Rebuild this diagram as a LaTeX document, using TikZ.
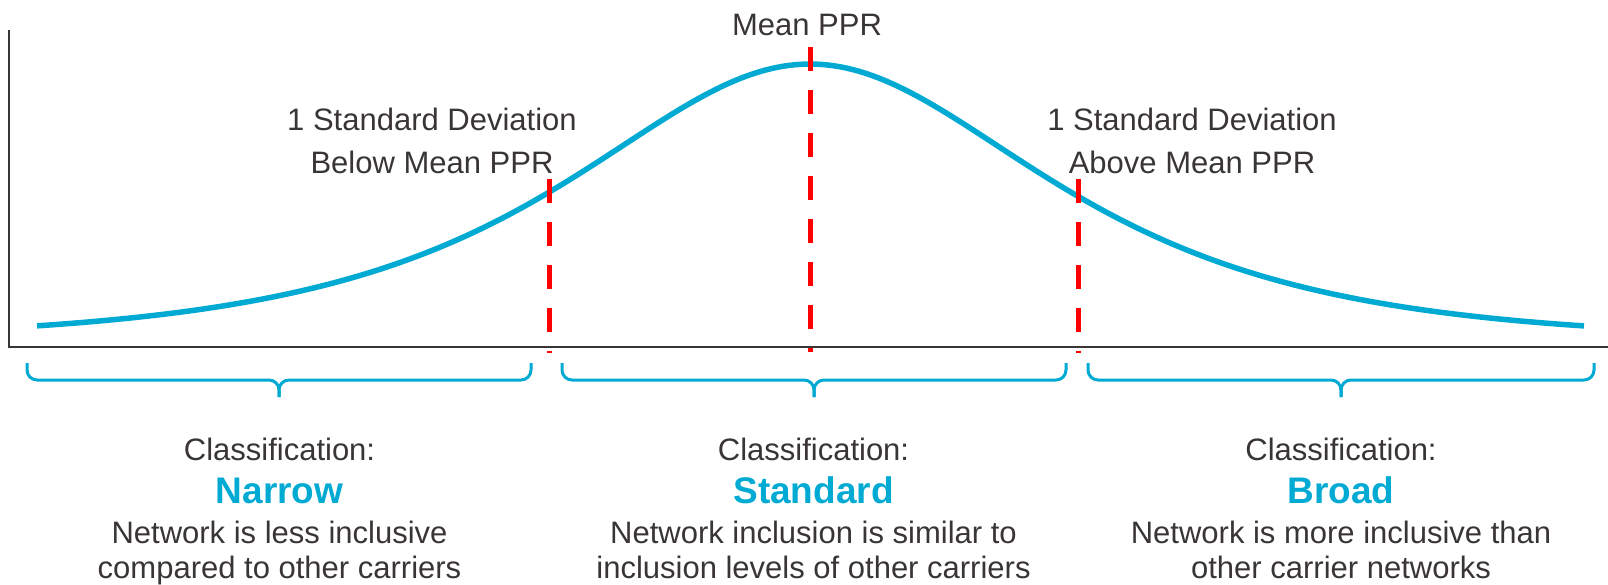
\documentclass[tikz,border=0pt]{standalone}
\usepackage{fontspec}
\setmainfont{Liberation Sans}
\definecolor{cyanc}{RGB}{0,170,210}
\definecolor{txt}{RGB}{58,53,53}
\definecolor{redc}{RGB}{255,0,0}
\begin{document}
\begin{tikzpicture}[x=1pt,y=-1pt,
  lbl/.style={font=\fontsize{31}{42}\selectfont, text=txt, inner sep=0pt, anchor=base, align=center},
  desc/.style={font=\fontsize{31}{35}\selectfont, text=txt, inner sep=0pt, anchor=base, align=center},
  cls/.style={font=\fontsize{37}{40}\selectfont\bfseries, text=cyanc, inner sep=0pt, anchor=base},
  axisline/.style={draw=txt, line width=2pt},
  bellcurve/.style={draw=cyanc, line width=5.5pt},
  sdline/.style={draw=redc, line width=5pt, dash pattern=on 24pt off 19pt},
  bracebox/.style={draw=cyanc, line width=3pt, rounded corners=10pt}
]
\useasboundingbox (0,0) rectangle (1608,584);
% axes
\coordinate (ytop) at (9,30);
\coordinate (origin) at (9,347);
\coordinate (xend) at (1608,347);
\draw[axisline] (ytop) -- (origin) -- (xend);
% curve
\draw[bellcurve] plot[domain=37:1584, samples=240] (\x,{340-276/cosh((\x-810)/211)});
% dashed lines
\coordinate (ltop) at (549,179); \coordinate (lbot) at (549,353);
\coordinate (mtop) at (810,47);  \coordinate (mbot) at (810,352);
\coordinate (rtop) at (1078,179); \coordinate (rbot) at (1078,353);
\draw[sdline] (ltop) -- (lbot);
\draw[sdline] (mtop) -- (mbot);
\draw[sdline] (rtop) -- (rbot);
% braces
\foreach \a/\m/\b in {27/279/531, 562/814/1066, 1088/1341/1594}{
  \draw[bracebox] (\a,363) -- (\a,380) -- (\m,380) -- (\m,397);
  \draw[bracebox] (\b,363) -- (\b,380) -- (\m,380) -- (\m,397);
}
% top labels
\node[lbl] (mean) at (807,35) {Mean PPR};
\node[lbl] (below1) at (432,130) {1 Standard Deviation};
\node[lbl] (below2) at (432,173) {Below Mean PPR};
\node[lbl] (above1) at (1192,130) {1 Standard Deviation};
\node[lbl] (above2) at (1192,173) {Above Mean PPR};
% bottom blocks
\node[lbl] (c1) at (279.5,460) {Classification:};
\node[cls] (n1) at (279.5,503) {Narrow};
\node[desc] (d1a) at (279.5,543) {Network is less inclusive};
\node[desc] (d1b) at (279.5,578) {compared to other carriers};
\node[lbl] (c2) at (813.5,460) {Classification:};
\node[cls] (n2) at (813.5,503) {Standard};
\node[desc] (d2a) at (813.5,543) {Network inclusion is similar to};
\node[desc] (d2b) at (813.5,578) {inclusion levels of other carriers};
\node[lbl] (c3) at (1341,460) {Classification:};
\node[cls] (n3) at (1341,503) {Broad};
\node[desc] (d3a) at (1341,543) {Network is more inclusive than};
\node[desc] (d3b) at (1341,578) {other carrier networks};
\end{tikzpicture}
\end{document}
